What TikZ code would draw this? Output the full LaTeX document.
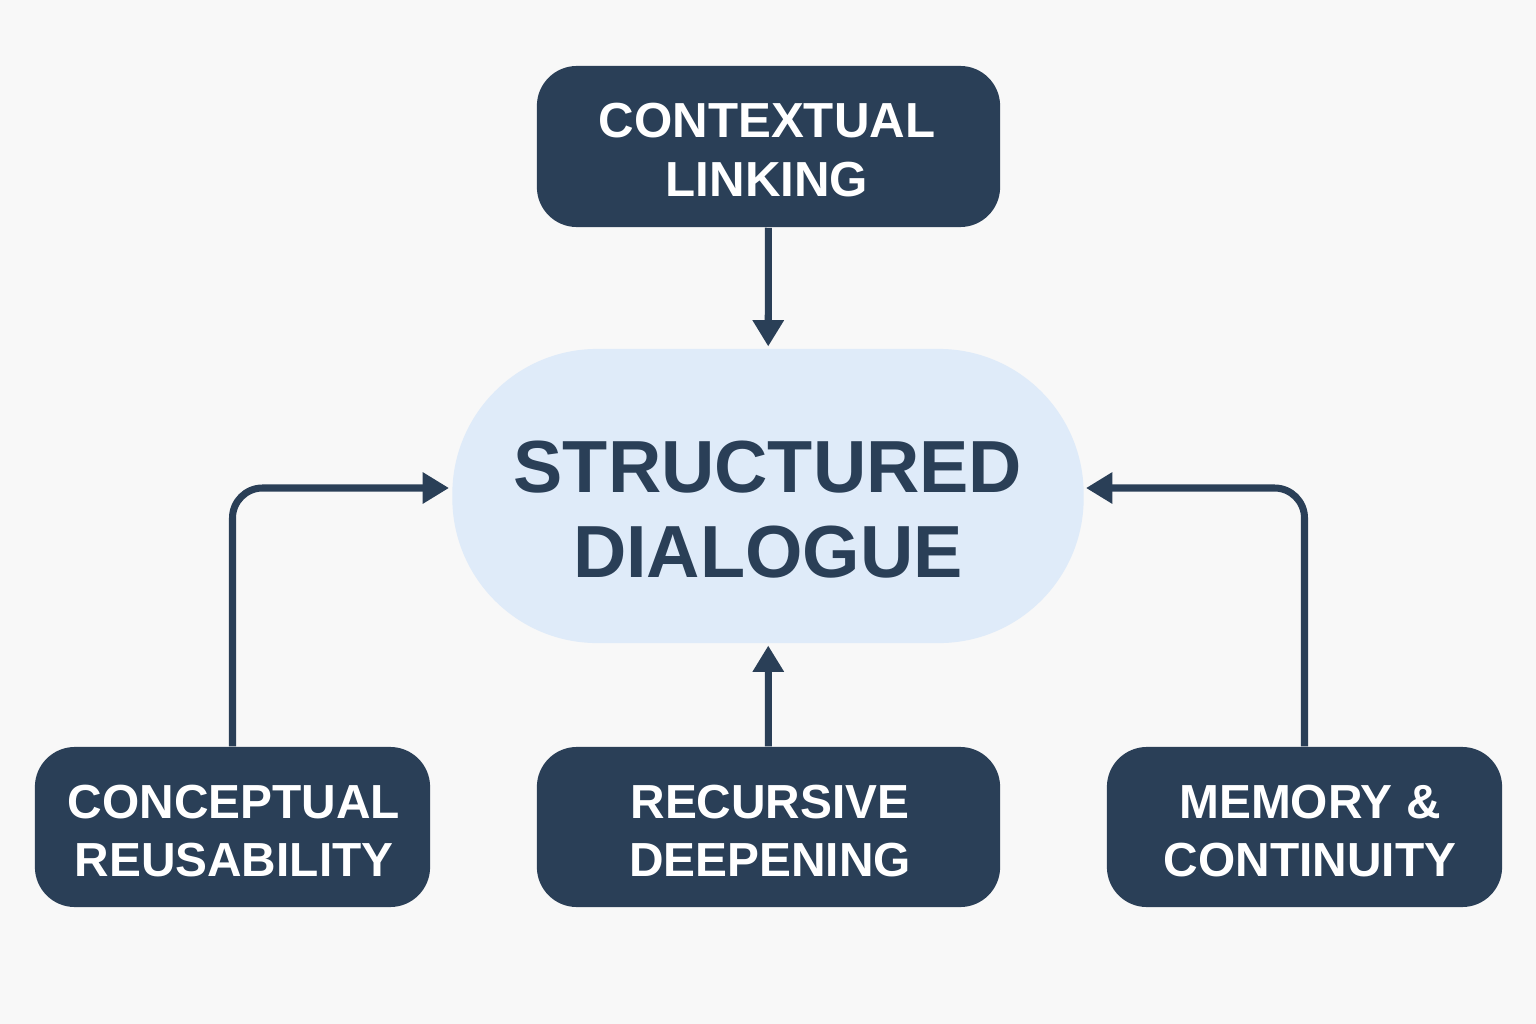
\documentclass[tikz,border=0pt]{standalone}
\usepackage{fontspec}
\setmainfont{Liberation Sans}
\usetikzlibrary{arrows.meta}
\definecolor{navy}{HTML}{2A3F57}
\definecolor{lightblue}{HTML}{DFEBF9}
\definecolor{bg}{HTML}{F8F8F8}
\begin{document}
\begin{tikzpicture}[x=0.01cm,y=-0.01cm,
  darkbox/.style={fill=navy, rounded corners=0.4cm, inner sep=0pt},
  darktext/.style={text=white, align=center, inner sep=0pt,
    font=\fontsize{13.6}{16.6}\selectfont\bfseries},
  hub/.style={fill=lightblue, rounded corners=1.45cm, minimum width=6.31cm, minimum height=2.94cm, inner sep=0pt},
  hubtext/.style={text=navy, align=center, inner sep=0pt,
    font=\fontsize{21}{24.2}\selectfont\bfseries},
  link/.style={draw=navy, line width=2pt, -{Triangle[length=7.5pt,width=8.5pt]}}]
\fill[bg] (0,0) rectangle (1536,1024);
\useasboundingbox (0,0) rectangle (1536,1024);
\node[hub] (center) at (768,496) {};
\node[hubtext] (centertxt) at (768,510) {STRUCTURED\\DIALOGUE};
\node[darkbox, minimum width=4.63cm, minimum height=1.61cm] (top) at (768.5,146.5) {};
\node[darktext, font=\fontsize{14}{16.8}\selectfont\bfseries] (toptxt) at (767,150) {CONTEXTUAL\\LINKING};
\node[darkbox, minimum width=3.95cm, minimum height=1.60cm] (bl) at (232.5,827) {};
\node[darktext] (bltxt) at (234,831) {CONCEPTUAL\\REUSABILITY};
\node[darkbox, minimum width=4.63cm, minimum height=1.60cm] (bm) at (768.5,827) {};
\node[darktext] (bmtxt) at (770,831) {RECURSIVE\\DEEPENING};
\node[darkbox, minimum width=3.95cm, minimum height=1.60cm] (br) at (1304.5,827) {};
\node[darktext] (brtxt) at (1310,831) {MEMORY \&\\CONTINUITY};
\coordinate (lin) at (449,488);
\coordinate (rin) at (1086,488);
\draw[link, shorten >=0.5pt] (top) -- (center);
\draw[link, shorten >=0.5pt] (bm) -- (center);
\draw[link, rounded corners=0.3cm] (bl.north) |- (lin);
\draw[link, rounded corners=0.3cm] (br.north) |- (rin);
\end{tikzpicture}
\end{document}
